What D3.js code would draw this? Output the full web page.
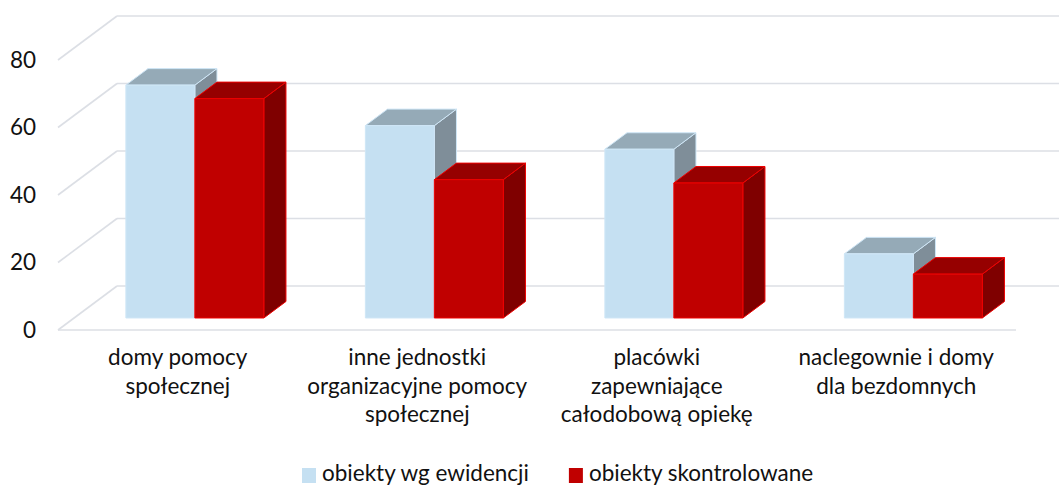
<!DOCTYPE html>
<html><head><meta charset="utf-8">
<script src="https://cdn.jsdelivr.net/npm/d3@7"></script>
<style>
body{margin:0;background:#fff}
svg{display:block}
text{font-family:Lato,'Open Sans',sans-serif;fill:#111}
</style>
</head><body>
<svg id="c" width="1059" height="486"></svg>
<script>
const categoryLines = [
  ["domy pomocy","społecznej"],
  ["inne jednostki","organizacyjne pomocy","społecznej"],
  ["placówki","zapewniające","całodobową opiekę"],
  ["naclegownie i domy","dla bezdomnych"]
];
const categories = categoryLines.map(l => l.join(" "));
const seriesNames = ["obiekty wg ewidencji","obiekty skontrolowane"];
const ewidencja = [69,57,50,19];
const skontrolowane = [65,41,40,13];
const yTicks = [0,20,40,60,80];

const seriesValues = [ewidencja, skontrolowane];
const palette = [
  {front:"#C5E0F2", top:"#95AAB7", side:"#7F8E99", edge:"#CFE6F6"},
  {front:"#C00000", top:"#960000", side:"#7F0000", edge:"#EE0000"}
];

const svg = d3.select("#c");
const FS = 22.5;
// projection
const D = {x:59, y:-44};      // depth vector of the plot box
const f1 = 0.273, fd = 0.375; // bar front depth, bar depth

const x = d3.scaleBand().domain(categories).range([58,1016]).padding(0);
const y = d3.scaleLinear().domain([0,80]).range([330,60]);
const groupW = x.bandwidth()*0.576;
const xs = d3.scaleBand().domain(seriesNames).range([0,groupW]);

const grid = svg.append("g").attr("stroke","#DCDFE5").attr("stroke-width",1.6).attr("fill","none");
// back wall
grid.selectAll("line.b").data(yTicks).join("line").attr("class","b")
  .attr("x1",x.range()[0]+D.x).attr("x2",x.range()[1]+D.x)
  .attr("y1",d=>y(d)+D.y).attr("y2",d=>y(d)+D.y);
// side wall diagonals
grid.selectAll("line.s").data(yTicks).join("line").attr("class","s")
  .attr("x1",x.range()[0]).attr("x2",x.range()[0]+D.x)
  .attr("y1",d=>y(d)).attr("y2",d=>y(d)+D.y);
// floor front
grid.append("line").attr("x1",x.range()[0]).attr("x2",x.range()[1])
  .attr("y1",y(0)).attr("y2",y(0));

// tick labels
svg.append("g").selectAll("text").data(yTicks).join("text")
  .attr("x",36).attr("y",d=>y(d)).attr("dy","0.35em")
  .attr("text-anchor","end").attr("font-size",FS).text(d=>d);

// bars
const bars = [];
categories.forEach((c,i)=>{
  seriesNames.forEach((s,j)=>{
    bars.push({c, s, j, v: seriesValues[j][i]});
  });
});
const off = (x.bandwidth()-groupW)/2 + 1;
const ddx = fd*D.x, ddy = fd*D.y;
const gb = svg.append("g");
bars.forEach(b=>{
  const x0 = x(b.c)+off+xs(b.s)+f1*D.x;
  const x1 = x0+xs.bandwidth();
  const yT = y(b.v)+f1*D.y;
  const yB = y(0)+f1*D.y;
  const col = palette[b.j];
  const g = gb.append("g").attr("stroke",col.edge).attr("stroke-width",1).attr("stroke-linejoin","round");
  g.append("polygon").attr("fill",col.side)
    .attr("points",[[x1,yT],[x1+ddx,yT+ddy],[x1+ddx,yB+ddy],[x1,yB]].join(" "));
  g.append("polygon").attr("fill",col.top)
    .attr("points",[[x0,yT],[x0+ddx,yT+ddy],[x1+ddx,yT+ddy],[x1,yT]].join(" "));
  g.append("rect").attr("fill",col.front).attr("x",x0).attr("y",yT)
    .attr("width",x1-x0).attr("height",yB-yT);
});

// category labels
const gl = svg.append("g");
categoryLines.forEach((lines,i)=>{
  const cx = x(categories[i])+x.bandwidth()/2;
  const t = gl.append("text").attr("text-anchor","middle").attr("font-size",FS);
  lines.forEach((ln,k)=>{
    t.append("tspan").attr("x",cx).attr("y",365+k*28.6).text(ln);
  });
});

// legend
const lg = svg.append("g");
let lx = 302;
seriesNames.forEach((s,j)=>{
  lg.append("rect").attr("x",lx).attr("y",468).attr("width",14).attr("height",15).attr("fill",palette[j].front);
  const t = lg.append("text").attr("x",lx+20).attr("y",481).attr("font-size",FS).text(s);
  lx += 20 + t.node().getComputedTextLength() + 40;
});
</script>
</body></html>
